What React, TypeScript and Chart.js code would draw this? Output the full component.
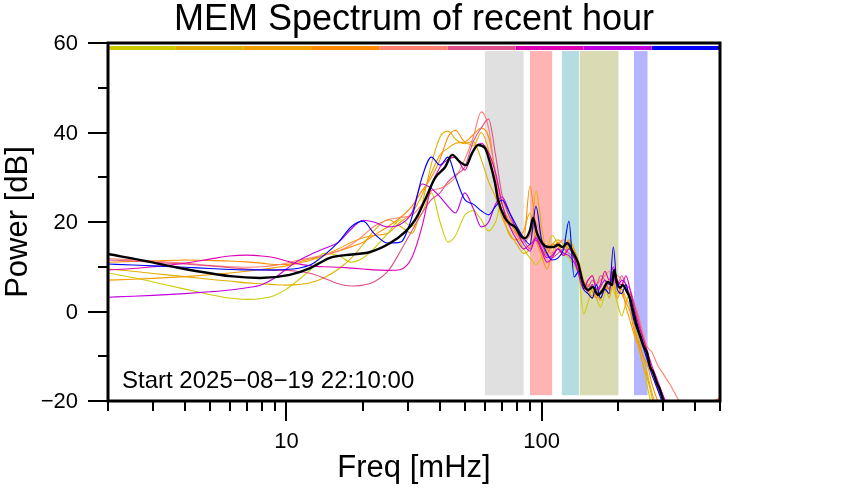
import React, { useEffect, useRef } from 'react';
import { Chart, registerables } from 'chart.js';
Chart.register(...registerables);

// ---------- data ----------
const freqGrid = [2, 2.5, 3, 4, 5, 6, 7, 8, 9, 10, 11, 12.5, 14, 16, 18, 20, 22, 25, 28, 31, 34, 37, 40, 43, 46, 50, 54, 58, 62, 66, 70, 75, 80, 85, 90, 95, 100, 105, 110, 116, 122, 128, 134, 140, 146, 152, 158, 164, 170, 177, 184, 191, 198, 206, 214, 222, 230, 240, 250, 260, 270, 285, 300, 320, 350, 400, 450, 500];

const yellowVals = [8.6, 7.6, 6.6, 5, 3.8, 3, 2.7, 2.9, 3.6, 5, 6.8, 9.5, 13, 12.5, 11, 12, 14, 17.5, 20.5, 19, 22, 26.5, 20, 15.5, 17, 21.5, 22.5, 20.5, 18, 20, 24.5, 21, 17, 14, 12, 10.5, 12, 14, 17, 15, 13, 12, 10, 8, -0.5, 2, 5, 3, 1, 4, 7, 5, 2, -1, 2, 4, -2, -8, -12, -17, -21, -25, -30, -30, -30, -30, -30, -30];
const goldVals = [9.5, 9, 8.5, 7.8, 7.2, 6.8, 6.4, 6.2, 6, 5.9, 6, 6.5, 7.5, 9.5, 12, 15, 18, 20.5, 19, 17.5, 24, 33, 39, 40.3, 38.5, 37.5, 38, 34, 29, 25.5, 21, 17.5, 15, 13, 14.5, 27, 19, 13, 15, 16, 15, 14, 13.5, 9, 6, 4, 3.5, 5, 4, 6, 3, 7, 4, 5, 3, 1, -3, -6, -10, -14, -18, -22, -26, -30, -30, -30, -30, -30];
const orangeVals = [7, 7.2, 7.4, 7.8, 8.2, 8.6, 9, 9.4, 9.8, 10.2, 10.7, 11.5, 12.5, 14, 15.5, 16.5, 17, 17.5, 20, 22, 26, 31, 35, 36.5, 37.6, 37.8, 37, 40, 36, 28, 22, 17, 16, 18, 22, 16, 12.5, 9.5, 13, 15.5, 14, 16, 14, 11, 7, 5, 3, 4, 2.5, 5, 4, 6, 3, 5, 1, -2, -5, -8, -12, -15, -19, -23, -27, -30, -30, -30, -30, -30];
const darkOrangeVals = [11, 11.2, 11.3, 11.5, 11.4, 11.3, 11.1, 10.8, 10.5, 10.5, 11, 11.8, 12.5, 13.5, 14.5, 15.5, 17, 19, 21, 23.5, 27, 30, 34, 39, 40.5, 38, 39.5, 41, 39, 31, 24, 20, 17.5, 16, 28, 19, 14, 13, 15, 14.5, 12.5, 15.5, 13, 9.5, 5.5, 6, 4.5, 3, 4.5, 5.5, 5, 8, 6, 4, 2, 0, -4, -7, -10, -12, -16, -20, -23, -27, -30, -30, -30, -30];
const salmonVals = [11.8, 11.6, 11.3, 10.8, 10.3, 10, 9.9, 10, 10.3, 10.8, 11.4, 12, 12.6, 13.5, 15, 17, 19, 20.5, 21, 21.5, 24, 27, 27.5, 28.5, 30, 34, 39, 44.6, 41, 30, 22, 19, 17, 15.5, 17, 20, 16, 14, 13, 15, 16, 14.5, 13, 10, 6, 7, 8, 6, 7, 8, 9, 6, 8, 7, 5, 4, 2, -1, -5, -8, -9, -12, -14, -16.5, -20.3, -21.5, -20.5, -19.3];
const pinkVals = [11.5, 11.3, 11, 10.6, 10.2, 9.8, 9.5, 9.3, 9.2, 9.2, 9, 8.5, 7.5, 6.2, 5.7, 5.9, 6.6, 9, 13.5, 18, 22, 25, 26.5, 29, 30.5, 32.3, 38, 41, 43, 35, 26, 21, 18.5, 16, 14, 17, 15, 12.5, 12, 13, 14, 13, 12, 9, 6, 5.5, 7, 6, 8, 7, 5, 9, 6, 8, 6, 5, 2, -2, -6, -10, -13, -17, -20, -24, -30, -30, -30, -30];
const magentaVals = [9.3, 9.6, 10, 10.8, 11.7, 12.4, 12.6, 12.4, 12, 11.3, 10.7, 10.2, 10, 9.9, 9.7, 9.5, 9.3, 9.2, 9.4, 12, 19, 28, 32.3, 34, 34.5, 31.6, 36.1, 37.6, 35.5, 31, 24, 19, 16, 14, 15, 16, 13.5, 11, 12, 14, 12.5, 14, 12, 8, 5, 7, 8, 5, 6, 9, 7, 10, 7, 6, 8, 5, 1, -3, -6, -9, -12, -15.5, -19, -23, -30, -30, -30, -30];
const purpleVals = [3.2, 3.4, 3.6, 4, 4.4, 4.8, 5.3, 6, 7.5, 9.5, 11.2, 12.8, 14, 15.5, 18.5, 20.4, 20, 18.9, 19.5, 22, 28.5, 27.5, 25.6, 23.5, 22, 26.5, 23, 18.9, 20, 24, 25.6, 22, 18, 15, 13.5, 16.5, 14, 12, 12.5, 14, 13, 12.5, 11, 8.5, 6, 4.5, 6, 4, 5.5, 7, 6, 8, 5.5, 7, 6, 3, 0, -4, -7, -10, -13, -16, -19, -23, -30, -30, -30, -30];
const blueVals = [10.6, 10.4, 10.2, 9.9, 9.6, 9.4, 9.3, 9.3, 9.3, 9.4, 9.6, 10.5, 12.5, 15.5, 19, 20.2, 17.5, 15.3, 15.5, 21, 30, 34.5, 32.7, 34.5, 30, 25, 24, 22.5, 21.6, 23.5, 24.9, 22, 19, 16.5, 15, 23.5, 16, 13, 11.5, 12, 14, 20.2, 7.7, 9, 5, 4, 3, 6, 3, 5, 4, 14.4, 5, 4, 6, 2, -2, -5, -8, -11, -14, -17.5, -21, -25, -30, -30, -30, -30];

const seriesValues = [yellowVals, goldVals, orangeVals, darkOrangeVals, salmonVals, pinkVals, magentaVals, purpleVals, blueVals];
const seriesColors = ['#CCCC00', '#E0B000', '#F2A000', '#FF8C00', '#FF8070', '#E0508C', '#E000B4', '#C000E0', '#0000FF'];

const meanFreq = [2.0, 2.92, 3.83, 6.01, 7.88, 10.3, 12.4, 14.8, 17.0, 21.3, 25.5, 29.2, 31.9, 34.9, 38.2, 41.9, 44.6, 47.9, 50.6, 53.4, 56.4, 60.0, 62.8, 65.7, 67.5, 71.9, 75.2, 78.7, 83.8, 86.1, 90.1, 92.5, 95.9, 100.4, 106, 111, 116, 121, 126, 133, 139, 145, 152, 159, 166, 174, 182, 189, 192, 197, 203, 208, 216, 222, 228, 237, 243, 250, 259, 266, 273, 283, 291, 299, 307];
const meanVals = [12.85, 11.1, 9.7, 7.9, 7.5, 8.2, 9.7, 12.0, 12.6, 13.3, 15.3, 17.8, 20.4, 24.9, 29.8, 32.3, 35.0, 33.4, 32.7, 35.4, 37.2, 36.5, 33.2, 28.7, 24.9, 20.9, 19.6, 18.9, 16.6, 16.4, 18.2, 20.9, 17.5, 15.3, 14.4, 14.4, 14.9, 14.4, 15.3, 13.1, 10.8, 6.6, 4.8, 5.5, 3.7, 4.8, 6.6, 5.9, 9.3, 6.6, 5.3, 5.9, 4.4, 3.0, 0.3, -3.5, -5.3, -7.5, -9.3, -12.4, -13.5, -16, -17.5, -19.8, -22];

const bandStart = [60, 90, 120, 141, 230];
const bandEnd = [85, 110, 140, 200, 260];
const bandColors = ['#E0E0E0', '#FFB3B3', '#B3DDE0', '#DADAB5', '#B5B5FF'];
const bandTop = 58.2;
const bandBottom = -18.7;

const timeBarEdges = [2, 3.69, 6.81, 12.6, 23.2, 42.8, 79.1, 146, 270, 500];
const timeBarColors = ['#CCCC00', '#E0B000', '#F2A000', '#FF8C00', '#FF8070', '#E0508C', '#E000B4', '#C000E0', '#0000FF'];
const timeBarLevel = 58.9;

const yMajorTicks = [-20, 0, 20, 40, 60];
const yMinorTicks = [-10, 10, 30, 50];
const xMajorTicks = [10, 100];
const xMinorTicks = [2, 3, 4, 5, 6, 7, 8, 9, 20, 30, 40, 50, 60, 70, 80, 90, 200, 300, 400, 500];

const titleText = 'MEM Spectrum of recent hour';
const xTitle = 'Freq [mHz]';
const yTitle = 'Power [dB]';
const startText = 'Start 2025\u221208\u221219 22:10:00';

const FONT = '"Liberation Sans", Arial, Helvetica, sans-serif';

function fmtTick(v: number) {
  return v < 0 ? '\u2212' + Math.abs(v) : String(v);
}

const decorPlugin = {
  id: 'decor',
  beforeDatasetsDraw(chart: any) {
    const { ctx, scales } = chart;
    const xs = scales.x, ys = scales.y;
    ctx.save();
    for (let i = 0; i < bandStart.length; i++) {
      const x0 = xs.getPixelForValue(bandStart[i]);
      const x1 = xs.getPixelForValue(bandEnd[i]);
      const y0 = ys.getPixelForValue(bandTop);
      const y1 = ys.getPixelForValue(bandBottom);
      ctx.fillStyle = bandColors[i];
      ctx.fillRect(x0, y0, x1 - x0, y1 - y0);
    }
    ctx.restore();
  },
  afterDatasetsDraw(chart: any) {
    const { ctx, scales, chartArea } = chart;
    const xs = scales.x, ys = scales.y;
    const { left, right, top, bottom } = chartArea;
    ctx.save();
    // frame
    ctx.strokeStyle = '#000';
    ctx.lineWidth = 3;
    ctx.strokeRect(left, top, right - left, bottom - top);
    // ticks
    ctx.lineWidth = 2;
    ctx.beginPath();
    yMajorTicks.forEach((v) => {
      const y = Math.round(ys.getPixelForValue(v));
      ctx.moveTo(left - 20, y); ctx.lineTo(left, y);
    });
    yMinorTicks.forEach((v) => {
      const y = Math.round(ys.getPixelForValue(v));
      ctx.moveTo(left - 10, y); ctx.lineTo(left, y);
    });
    xMajorTicks.forEach((v) => {
      const x = Math.round(xs.getPixelForValue(v));
      ctx.moveTo(x, bottom); ctx.lineTo(x, bottom + 20);
    });
    xMinorTicks.forEach((v) => {
      const x = Math.round(xs.getPixelForValue(v));
      ctx.moveTo(x, bottom); ctx.lineTo(x, bottom + 10);
    });
    ctx.stroke();
    // tick labels
    ctx.fillStyle = '#000';
    ctx.font = `22px ${FONT}`;
    ctx.textAlign = 'right';
    ctx.textBaseline = 'middle';
    yMajorTicks.forEach((v) => {
      ctx.fillText(fmtTick(v), left - 30, ys.getPixelForValue(v) + 1);
    });
    ctx.textAlign = 'center';
    xMajorTicks.forEach((v) => {
      ctx.fillText(String(v), xs.getPixelForValue(v), bottom + 41);
    });
    // start text
    ctx.textAlign = 'left';
    ctx.font = `24px ${FONT}`;
    ctx.fillText(startText, left + 14, 381);
    // titles
    ctx.font = `31px ${FONT}`;
    ctx.textAlign = 'center';
    ctx.fillText(xTitle, (left + right) / 2, 468);
    ctx.save();
    ctx.translate(18, (top + bottom) / 2);
    ctx.rotate(-Math.PI / 2);
    ctx.fillText(yTitle, 0, 0);
    ctx.restore();
    ctx.font = `36px ${FONT}`;
    ctx.textBaseline = 'alphabetic';
    ctx.fillText(titleText, (left + right) / 2, 30);
    ctx.restore();
  },
};

export default function App() {
  const ref = useRef<HTMLCanvasElement>(null);
  useEffect(() => {
    if (!ref.current) return;
    const datasets: any[] = [];
    datasets.push({
      data: meanFreq.map((f, i) => ({ x: f, y: meanVals[i] })),
      borderColor: '#000000',
      borderWidth: 2.4,
      cubicInterpolationMode: 'monotone',
      pointRadius: 0,
      fill: false,
    });
    for (let s = seriesValues.length - 1; s >= 0; s--) {
      datasets.push({
        data: freqGrid.map((f, i) => ({ x: f, y: seriesValues[s][i] })),
        borderColor: seriesColors[s],
        borderWidth: 1.1,
        cubicInterpolationMode: 'monotone',
        pointRadius: 0,
        fill: false,
      });
    }
    for (let k = 0; k < timeBarColors.length; k++) {
      datasets.push({
        data: [{ x: timeBarEdges[k], y: timeBarLevel }, { x: timeBarEdges[k + 1], y: timeBarLevel }],
        borderColor: timeBarColors[k],
        borderWidth: 4,
        borderCapStyle: 'butt',
        tension: 0,
        pointRadius: 0,
        fill: false,
      });
    }
    const chart = new Chart(ref.current, {
      type: 'line',
      data: { datasets },
      options: {
        animation: false,
        responsive: false,
        maintainAspectRatio: false,
        layout: { padding: { left: 108, right: 122, top: 43, bottom: 99 } },
        scales: {
          x: { type: 'logarithmic', min: 2, max: 500, display: false },
          y: { type: 'linear', min: -20, max: 60, display: false },
        },
        plugins: { legend: { display: false }, tooltip: { enabled: false }, title: { display: false } },
        elements: { point: { radius: 0 } },
      },
      plugins: [decorPlugin],
    } as any);
    return () => chart.destroy();
  }, []);
  return (
    <div style={{ position: 'fixed', left: 0, top: 0, width: 842, height: 500, background: '#fff' }}>
      <canvas ref={ref} width={842} height={500} style={{ width: 842, height: 500 }} />
    </div>
  );
}
